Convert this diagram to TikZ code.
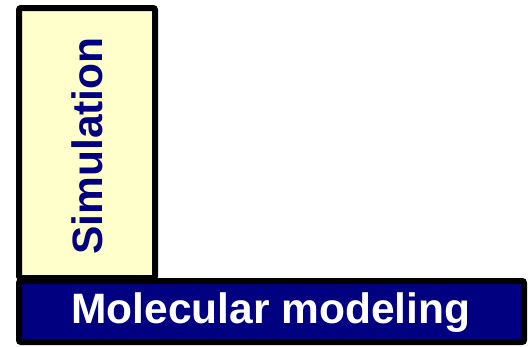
\documentclass[tikz,border=0pt]{standalone}
\usepackage{fontspec}
\setmainfont{Liberation Sans}
\definecolor{paleyellow}{HTML}{FFFFCC}
\definecolor{navyblue}{HTML}{000080}
\begin{document}
\begin{tikzpicture}[x=1pt,y=-1pt,
  boxstyle/.style={draw=black,line width=6pt,rounded corners=2pt},
  lbl/.style={font=\fontsize{42.5}{46}\selectfont\bfseries}]
\useasboundingbox (0,0) rectangle (531,346);
\fill[white] (0,0) rectangle (531,346);
\draw[boxstyle,fill=paleyellow] (19,8) rectangle (155,278);
\draw[boxstyle,fill=navyblue] (19,281) rectangle (524,342);
\node[lbl,text=navyblue,rotate=90] (sim) at (87,146) {Simulation};
\node[lbl,text=white] (mm) at (271,313) {Molecular modeling};
\end{tikzpicture}
\end{document}
